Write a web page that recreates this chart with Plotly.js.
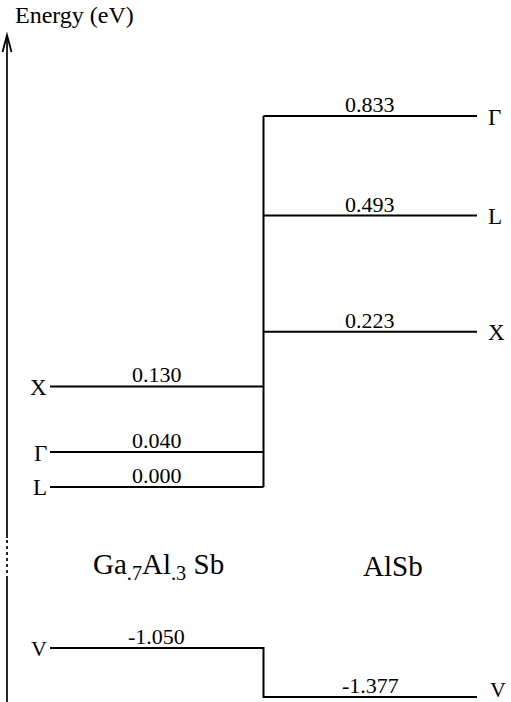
<!DOCTYPE html>
<html>
<head>
<meta charset="utf-8">
<script src="https://cdn.plot.ly/plotly-3.0.1.min.js"></script>
<style>html,body{margin:0;padding:0;background:#fff;}#chart{width:511px;height:702px;}</style>
</head>
<body>
<div id="chart"></div>
<script>
// ---- data ----
const materials = ["Ga<sub>.7</sub>Al<sub>.3</sub> Sb", "AlSb"];
const leftCBLabels = ["X", "Γ", "L"];
const leftCB = [0.130, 0.040, 0.000];
const rightCBLabels = ["Γ", "L", "X"];
const rightCB = [0.833, 0.493, 0.223];
const vbLabels = ["V", "V"];
const vb = [-1.050, -1.377];

// ---- scale helpers (schematic log scale for conduction levels) ----
const OFF = 0.3;            // energy offset for the schematic log axis
const W = 511, H = 702;
const FONT = "Liberation Serif";
const ink = "#000000";
const cb = e => e + OFF;
const lg = e => Math.log10(e + OFF);
const px = v => v / W;
const py = v => 1 - v / H;
const f = s => ({family: FONT, size: s, color: ink});

// ---- traces ----
const cbx = [], cby = [];
leftCB.forEach(e => { cbx.push(0, 1, null); cby.push(cb(e), cb(e), null); });
rightCB.forEach(e => { cbx.push(1, 2, null); cby.push(cb(e), cb(e), null); });
cbx.push(1, 1);
cby.push(cb(Math.min(...leftCB)), cb(Math.max(...rightCB)));

const traces = [
  {x: cbx, y: cby, type: "scatter", mode: "lines", xaxis: "x", yaxis: "y",
   line: {color: ink, width: 2}, hoverinfo: "skip", connectgaps: false},
  {x: [0, 1, 1, 2], y: [vb[0], vb[0], vb[1], vb[1]], type: "scatter", mode: "lines",
   xaxis: "x", yaxis: "y2", line: {color: ink, width: 2}, hoverinfo: "skip"}
];

// ---- annotations ----
const ann = [];
leftCB.forEach((e, i) => {
  ann.push({x: 0.5, y: lg(e), xref: "x", yref: "y", text: e.toFixed(3), showarrow: false,
            xanchor: "center", yanchor: "bottom", yshift: -3, font: f(22)});
  ann.push({x: 0, y: lg(e), xref: "x", yref: "y", text: leftCBLabels[i], showarrow: false,
            xanchor: "right", yanchor: "middle", xshift: -1, yshift: -1, font: f(23)});
});
rightCB.forEach((e, i) => {
  ann.push({x: 1.5, y: lg(e), xref: "x", yref: "y", text: e.toFixed(3), showarrow: false,
            xanchor: "center", yanchor: "bottom", yshift: -3, font: f(22)});
  ann.push({x: 2, y: lg(e), xref: "x", yref: "y", text: rightCBLabels[i], showarrow: false,
            xanchor: "left", yanchor: "middle", xshift: 9, yshift: -1, font: f(23)});
});
vb.forEach((e, i) => {
  ann.push({x: i + 0.5, y: e, xref: "x", yref: "y2", text: e.toFixed(3), showarrow: false,
            xanchor: "center", yanchor: "bottom", yshift: -3, font: f(22)});
  ann.push({x: i * 2, y: e, xref: "x", yref: "y2", text: vbLabels[i], showarrow: false,
            xanchor: i === 0 ? "right" : "left", yanchor: "middle",
            xshift: i === 0 ? -1 : 11, yshift: i === 0 ? -1 : 7, font: f(22)});
});
ann.push({x: px(158), y: py(566), xref: "paper", yref: "paper", text: materials[0], showarrow: false,
          xanchor: "center", yanchor: "middle", font: f(29)});
ann.push({x: px(393), y: py(566), xref: "paper", yref: "paper", text: materials[1], showarrow: false,
          xanchor: "center", yanchor: "middle", font: f(29)});
ann.push({x: px(13), y: py(0), xref: "paper", yref: "paper", text: "Energy (eV)", showarrow: false,
          xanchor: "left", yanchor: "top", font: f(24)});

// ---- energy axis drawn as shapes ----
const AX = 7;
const shapes = [
  {type: "line", xref: "paper", yref: "paper", x0: px(AX), x1: px(AX), y0: py(36), y1: py(538),
   line: {color: ink, width: 1.7}},
  {type: "line", xref: "paper", yref: "paper", x0: px(AX), x1: px(AX), y0: py(540), y1: py(578),
   line: {color: ink, width: 1.7, dash: "dot"}},
  {type: "line", xref: "paper", yref: "paper", x0: px(AX), x1: px(AX), y0: py(578), y1: py(702),
   line: {color: ink, width: 1.7}},
  {type: "path", xref: "paper", yref: "paper",
   path: `M ${px(AX - 4.5)} ${py(52)} L ${px(AX)} ${py(35)} L ${px(AX + 4.5)} ${py(52)}`,
   line: {color: ink, width: 1.8}}
];

const hidden = {visible: false, showgrid: false, zeroline: false, fixedrange: true};
const layout = {
  width: W, height: H,
  margin: {l: 0, r: 0, t: 0, b: 0},
  paper_bgcolor: "#ffffff", plot_bgcolor: "rgba(0,0,0,0)",
  showlegend: false,
  font: f(14),
  xaxis: Object.assign({}, hidden, {range: [-0.2342, 2.1593], domain: [0, 1]}),
  yaxis: Object.assign({}, hidden, {type: "log", range: [-0.5729, 0.1042], domain: [0.2605, 0.8805], anchor: "x"}),
  yaxis2: Object.assign({}, hidden, {range: [-1.40, -0.95], domain: [0.0023, 0.0983], anchor: "x"}),
  annotations: ann,
  shapes: shapes
};

Plotly.newPlot("chart", traces, layout, {displayModeBar: false, staticPlot: true});
</script>
</body>
</html>
